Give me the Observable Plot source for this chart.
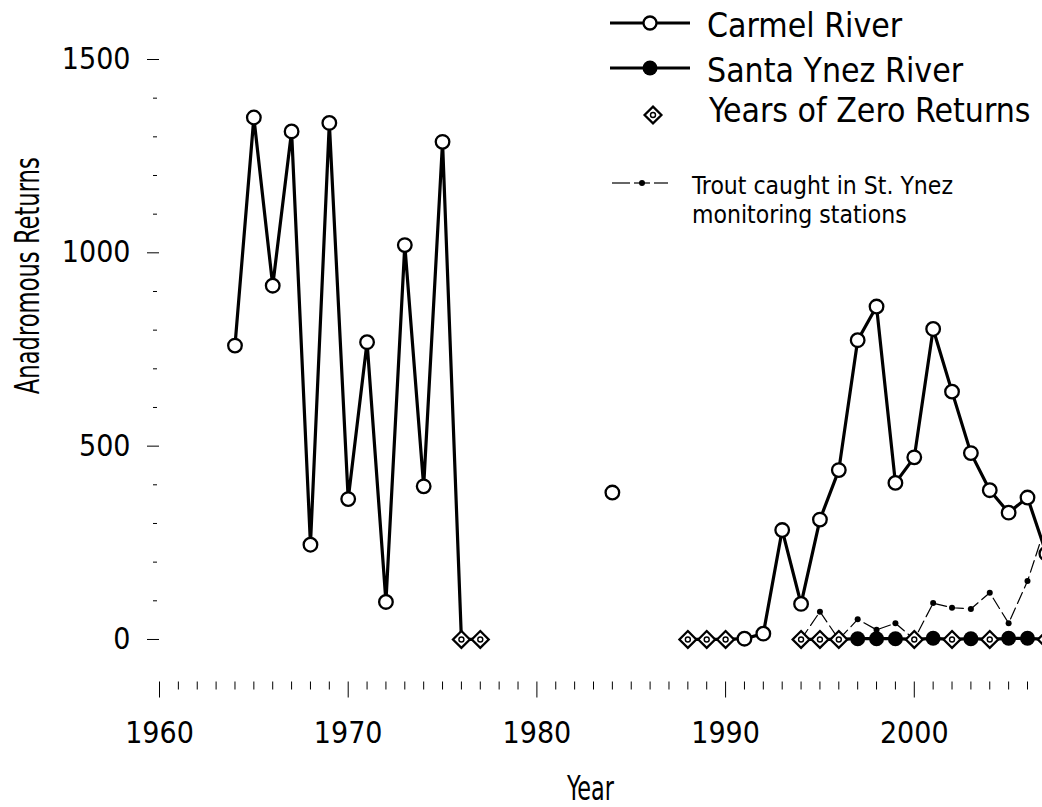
<!DOCTYPE html>
<html>
<head>
<meta charset="utf-8">
<script src="https://cdn.jsdelivr.net/npm/d3@7"></script>
<script src="https://cdn.jsdelivr.net/npm/@observablehq/plot@0.6"></script>
<style>
html, body { margin: 0; padding: 0; background: #fff; overflow: hidden; }
#wrap { position: relative; width: 1042px; height: 807px; overflow: hidden; }
#legend { position: absolute; left: 0; top: 0; }
</style>
</head>
<body>
<div id="wrap"></div>
<script>
// ---- data ----
const carmelYears   = [1964,1965,1966,1967,1968,1969,1970,1971,1972,1973,1974,1975,1976,1977,
                       1984,
                       1988,1989,1990,1991,1992,1993,1994,1995,1996,1997,1998,1999,2000,2001,2002,2003,2004,2005,2006,2007];
const carmelReturns = [760,1350,915,1314,245,1336,363,769,97,1020,396,1287,0,0,
                       380,
                       0,0,0,2,15,283,92,310,438,774,861,405,471,803,641,482,386,328,367,222];

const ynezYears   = [1994,1995,1996,1997,1998,1999,2000,2001,2002,2003,2004,2005,2006,2007];
const ynezReturns = [0,0,0,2,2,2,0,3,0,2,0,3,3,0];

const troutYears  = [1994,1995,1996,1997,1998,1999,2000,2001,2002,2003,2004,2005,2006,2007];
const troutCaught = [0,72,0,52,25,42,0,94,82,79,121,42,151,300];

const carmelZeroYears = [1976,1977,1988,1989,1990];
const ynezZeroYears   = [1994,1995,1996,2000,2002,2004,2007];

const xMajorTicks = [1960,1970,1980,1990,2000];
const xMinorTicks = [1961,1962,1963,1964,1965,1966,1967,1968,1969,1971,1972,1973,1974,1975,1976,1977,1978,1979,
                     1981,1982,1983,1984,1985,1986,1987,1988,1989,1991,1992,1993,1994,1995,1996,1997,1998,1999,
                     2001,2002,2003,2004,2005,2006];
const yMajorTicks = [0,500,1000,1500];
const yMinorTicks = [100,200,300,400,600,700,800,900,1100,1200,1300,1400];

const xTitle = "Year";
const yTitle = "Anadromous Returns";
const legendLabels = ["Carmel River", "Santa Ynez River", "Years of Zero Returns"];
const legendNote = ["Trout caught in St. Ynez", "monitoring stations"];

// ---- tables ----
let run = 0;
const carmel = carmelYears.map((year, i) => {
  if (i > 0 && year - carmelYears[i - 1] > 1) run++;
  return {year, value: carmelReturns[i], run};
});
const ynez = ynezYears.map((year, i) => ({year, value: ynezReturns[i]}));
const trout = troutYears.map((year, i) => ({year, value: troutCaught[i]}));
const zeros = carmelZeroYears.concat(ynezZeroYears).map(year => ({year, value: 0}));
const carmelOpen = carmel.filter(d => !carmelZeroYears.includes(d.year));
const ynezFilled = ynez.filter(d => !ynezZeroYears.includes(d.year));

const TICKFONT = "'DejaVu Sans Condensed', 'DejaVu Sans', sans-serif";

const chart = Plot.plot({
  width: 1042,
  height: 807,
  marginLeft: 159,
  marginRight: 15,
  marginTop: 59,
  marginBottom: 125.5,
  x: {domain: [1960, 2006]},
  y: {domain: [-110, 1500]},
  style: {fontFamily: TICKFONT, fontSize: "30px", background: "white", color: "black"},
  marks: [
    Plot.axisY(yMinorTicks, {tickSize: 4, dx: -2, tickFormat: () => "", label: null}),
    Plot.axisY(yMajorTicks, {tickSize: 12, tickPadding: 17, fontSize: 30, tickFormat: d => String(d), label: null}),
    Plot.axisX(xMinorTicks, {tickSize: 8, tickFormat: () => "", label: null}),
    Plot.axisX(xMajorTicks, {tickSize: 16, tickPadding: 24, fontSize: 30, tickFormat: d => String(d), label: null}),
    Plot.text([xTitle], {frameAnchor: "bottom", lineAnchor: "bottom", dy: 117.5, dx: -3, fontSize: 33, className: "xtitle"}),
    Plot.text([yTitle], {frameAnchor: "left", rotate: -90, textAnchor: "middle", lineAnchor: "bottom", dx: -121, dy: -95, fontSize: 34, className: "ytitle"}),
    Plot.line(trout, {x: "year", y: "value", stroke: "black", strokeWidth: 1.2, strokeDasharray: "12,5"}),
    Plot.dot(trout, {x: "year", y: "value", r: 3, fill: "black"}),
    Plot.line(ynez, {x: "year", y: "value", stroke: "black", strokeWidth: 3.2}),
    Plot.line(carmel, {x: "year", y: "value", z: "run", stroke: "black", strokeWidth: 3.2}),
    Plot.dot(carmelOpen, {x: "year", y: "value", r: 6.8, fill: "white", stroke: "black", strokeWidth: 2.3}),
    Plot.dot(ynezFilled, {x: "year", y: "value", r: 7.5, fill: "black"}),
    Plot.dot(zeros, {x: "year", y: "value", symbol: "diamond2", r: 7.6, fill: "white", stroke: "black", strokeWidth: 2.3}),
    Plot.dot(zeros, {x: "year", y: "value", r: 2.5, fill: "white", stroke: "black", strokeWidth: 1.4})
  ]
});
// condense the axis titles to the reference's narrow lettering
d3.select(chart).selectAll(".xtitle text").attr("textLength", 47).attr("lengthAdjust", "spacingAndGlyphs");
d3.select(chart).selectAll(".ytitle text").attr("textLength", 237).attr("lengthAdjust", "spacingAndGlyphs");
document.getElementById("wrap").appendChild(chart);

// ---- legend overlay ----
const lg = d3.select("#wrap").append("svg").attr("id", "legend")
  .attr("width", 1042).attr("height", 240)
  .style("font-family", TICKFONT);

const rowsY = [23, 68, 115];
const textBase = [37, 82, 122];
// row 1
lg.append("line").attr("x1", 610).attr("x2", 690).attr("y1", rowsY[0]).attr("y2", rowsY[0]).attr("stroke", "black").attr("stroke-width", 3.2);
lg.append("circle").attr("cx", 650).attr("cy", rowsY[0]).attr("r", 6.5).attr("fill", "white").attr("stroke", "black").attr("stroke-width", 2.3);
// row 2
lg.append("line").attr("x1", 610).attr("x2", 690).attr("y1", rowsY[1]).attr("y2", rowsY[1]).attr("stroke", "black").attr("stroke-width", 3.2);
lg.append("circle").attr("cx", 650).attr("cy", rowsY[1]).attr("r", 7.5).attr("fill", "black");
// row 3
lg.append("path").attr("transform", `translate(653,${rowsY[2]})`)
  .attr("d", d3.symbol(d3.symbolDiamond2, 7.6 * 7.6 * Math.PI)())
  .attr("fill", "white").attr("stroke", "black").attr("stroke-width", 2.3);
lg.append("circle").attr("cx", 653).attr("cy", rowsY[2]).attr("r", 2.5).attr("fill", "white").attr("stroke", "black").attr("stroke-width", 1.4);
legendLabels.forEach((t, i) => {
  lg.append("text").attr("x", i === 2 ? 709 : 707).attr("y", textBase[i]).attr("font-size", 33.5).text(t);
});
// row 4 (dashed trout)
[[612, 630], [634, 650], [654, 668]].forEach(([a, b]) => {
  lg.append("line").attr("x1", a).attr("x2", b).attr("y1", 183).attr("y2", 183).attr("stroke", "black").attr("stroke-width", 1.2);
});
lg.append("circle").attr("cx", 642).attr("cy", 183).attr("r", 3).attr("fill", "black");
lg.append("text").attr("x", 692).attr("y", 194).attr("font-size", 24.5).text(legendNote[0]);
lg.append("text").attr("x", 692).attr("y", 223).attr("font-size", 24.5).text(legendNote[1]);
</script>
</body>
</html>
